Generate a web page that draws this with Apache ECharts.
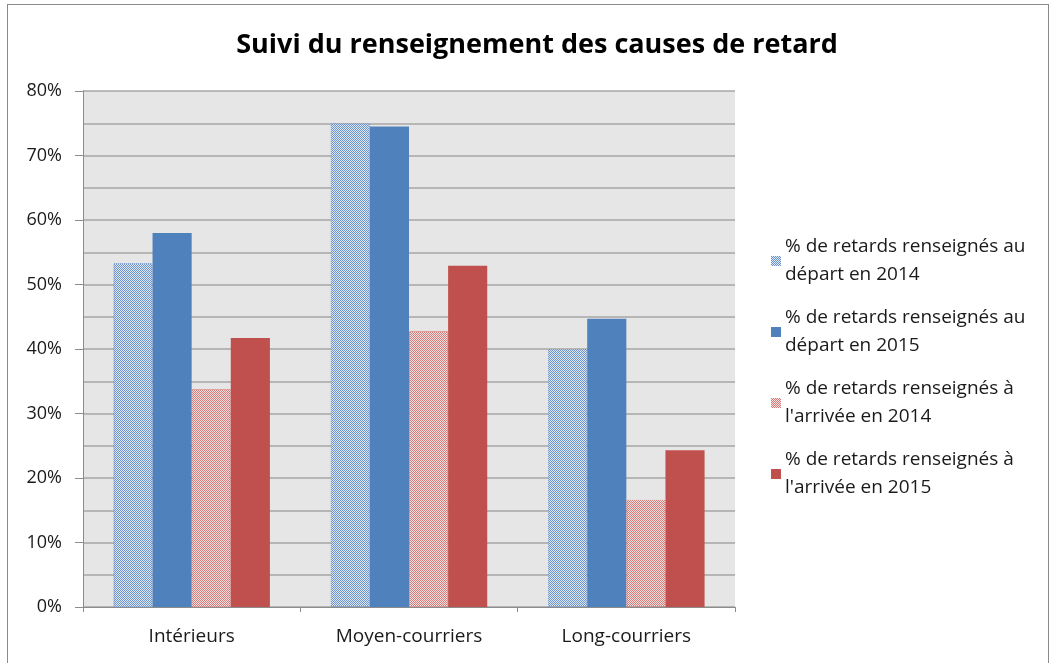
<!DOCTYPE html>
<html><head><meta charset="utf-8">
<script src="https://cdn.jsdelivr.net/npm/echarts@6/dist/echarts.min.js"></script>
<style>
html,body{margin:0;padding:0;background:#fff;}
#wrap{position:absolute;left:7px;top:4px;width:1042px;height:660px;border:1px solid #8a8a8a;box-sizing:border-box;}
#c{position:absolute;left:0;top:0;width:1056px;height:663px;}
</style></head>
<body>
<div id="wrap"></div>
<div id="c"></div>
<script>
const categories = ['Intérieurs', 'Moyen-courriers', 'Long-courriers'];
const seriesNames = [
  '% de retards renseignés au\ndépart en 2014',
  '% de retards renseignés au\ndépart en 2015',
  '% de retards renseignés à\nl\'arrivée en 2014',
  '% de retards renseignés à\nl\'arrivée en 2015'
];
const depart2014 = [53.3, 75.0, 40.0];
const depart2015 = [58.0, 74.5, 44.7];
const arrivee2014 = [33.8, 42.8, 16.6];
const arrivee2015 = [41.7, 52.9, 24.3];
const yTicks = [0, 10, 20, 30, 40, 50, 60, 70, 80];

function pattern(fg, bg) {
  const cv = document.createElement('canvas');
  cv.width = 2; cv.height = 2;
  const ctx = cv.getContext('2d');
  ctx.fillStyle = bg; ctx.fillRect(0, 0, 2, 2);
  ctx.fillStyle = fg; ctx.fillRect(0, 0, 1, 1); ctx.fillRect(1, 1, 1, 1);
  return {image: cv, repeat: 'repeat'};
}
const blue = '#4f81bd', red = '#c0504d';
const bluePat = pattern('#6f96cc', '#dde6f3');
const redPat = pattern('#d47c7a', '#f5e1e1');

const chart = echarts.init(document.getElementById('c'));
const font = 'Open Sans, Noto Sans, sans-serif';
function bar(name, data, color, border, dotted) {
  return {
    name: name, type: 'bar', data: data, barGap: '0%', barCategoryGap: '28%',
    itemStyle: {color: color, borderColor: border, borderWidth: dotted ? 1 : 0, borderType: dotted ? 'dotted' : 'solid'},
    emphasis: {disabled: true}
  };
}
chart.setOption({
  animation: false,
  textStyle: {fontFamily: font},
  title: {
    text: 'Suivi du renseignement des causes de retard', left: 532, top: 27, textAlign: 'center',
    textStyle: {fontFamily: font, fontSize: 27, fontWeight: 'bold', color: '#000'}
  },
  legend: {
    orient: 'vertical', left: 766, top: 228, itemWidth: 10, itemHeight: 10, itemGap: 15,
    icon: 'rect',
    itemStyle: {borderWidth: 0},
    textStyle: {fontFamily: font, fontSize: 19, color: '#1a1a1a', lineHeight: 28, padding: [0, 0, 0, -1]},
    data: seriesNames
  },
  grid: {left: 83, right: 321, top: 91, bottom: 56, show: true, backgroundColor: '#e6e6e6', borderWidth: 0},
  xAxis: {
    type: 'category', data: categories,
    axisLine: {lineStyle: {color: '#8c8c8c', width: 1}},
    axisTick: {show: true, length: 5, lineStyle: {color: '#8c8c8c'}},
    axisLabel: {fontFamily: font, fontSize: 19, color: '#1a1a1a', margin: 20}
  },
  yAxis: {
    type: 'value', min: yTicks[0], max: yTicks[yTicks.length - 1], interval: 10,
    axisLine: {show: true, lineStyle: {color: '#8c8c8c'}},
    axisTick: {show: true, length: 8, lineStyle: {color: '#8c8c8c'}},
    axisLabel: {fontFamily: font, fontSize: 18, color: '#1a1a1a', margin: 21, formatter: v => v + '%'},
    splitLine: {lineStyle: {color: '#a6a6a6', width: 1.5}},
    minorTick: {show: false, splitNumber: 2},
    minorSplitLine: {show: true, lineStyle: {color: '#a6a6a6', width: 1.5}}
  },
  series: [
    bar(seriesNames[0], depart2014, bluePat, '#6f96cc', true),
    bar(seriesNames[1], depart2015, blue, blue, false),
    bar(seriesNames[2], arrivee2014, redPat, '#d47c7a', true),
    bar(seriesNames[3], arrivee2015, red, red, false)
  ]
});
</script>
</body></html>
